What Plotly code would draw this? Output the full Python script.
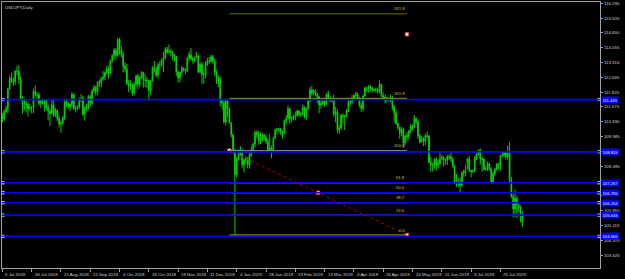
import plotly.graph_objects as go

# ---------------- data (USDJPY daily) ----------------
opens = [
    # Jul 2018
    110.62,110.47,110.85,111.00,111.98,112.52,112.37,112.33,112.88,112.87,112.47,111.40,111.33,111.22,111.20,110.99,111.04,111.05,
    # Aug 2018
    111.86,111.70,111.67,111.25,111.39,111.38,111.39,111.06,110.87,110.73,111.18,110.66,110.90,110.49,110.22,110.24,110.52,111.33,111.24,111.08,111.19,111.70,111.00,
    # Sep 2018
    111.03,111.07,111.44,111.50,110.71,110.99,111.10,111.60,111.28,111.88,112.05,111.85,112.33,112.29,112.50,112.58,112.79,112.99,112.78,113.42,
    # Oct 2018
    113.68,113.93,113.67,114.47,113.95,113.71,113.12,113.00,112.24,112.13,112.20,111.76,112.21,112.64,112.22,112.54,112.82,112.43,112.42,112.38,111.91,112.37,113.04,
    # Nov 2018
    112.94,112.68,113.20,113.18,113.44,113.51,113.98,113.83,113.87,113.82,113.62,113.60,112.83,112.54,112.80,113.02,112.92,112.90,113.54,113.70,113.49,113.45,
    # Dec 2018
    113.55,113.63,112.83,113.20,112.71,112.68,113.29,113.38,113.36,113.60,113.39,112.83,112.51,112.40,111.36,111.27,110.32,111.36,110.99,110.27,
    # Jan 2019
    109.69,108.88,107.67,108.51,108.71,108.74,108.16,108.40,108.48,108.17,108.67,108.93,109.21,109.79,109.67,109.37,109.59,109.64,109.54,109.35,108.86,109.02,
    # Feb 2019
    108.88,109.50,109.90,109.95,109.96,109.80,109.73,110.38,110.48,110.99,110.46,110.49,110.60,110.62,110.87,110.70,110.70,111.04,110.56,111.00,
    # Mar 2019
    111.39,111.93,111.76,111.88,111.75,111.58,111.17,111.25,111.35,111.20,111.70,111.46,111.42,111.39,110.71,110.83,109.92,110.01,110.65,110.59,110.63,
    # Apr 2019
    110.85,111.34,111.32,111.51,111.65,111.72,111.47,111.16,110.99,111.62,112.02,112.02,112.10,112.05,111.96,111.92,111.93,111.86,112.21,111.64,111.55,111.38,
    # May 2019
    111.40,111.42,111.51,111.10,110.77,110.25,110.04,109.75,109.97,109.26,109.63,109.59,109.87,110.07,110.06,110.51,110.32,109.62,109.30,109.47,109.34,109.63,109.60,
    # Jun 2019
    108.28,108.14,108.15,108.44,108.16,108.21,108.46,108.53,108.39,108.38,108.58,108.57,108.45,108.09,107.25,107.31,107.28,107.14,107.75,107.84,
    # Jul 2019
    108.20,108.46,107.88,107.82,107.84,108.46,108.72,108.90,108.48,108.44,107.93,107.92,108.22,108.00,107.30,107.71,107.93,108.19,108.17,108.63,108.68,108.78,108.56,
    # Aug 2019
    108.77,107.38,106.58,105.95,106.47,106.15,106.06,105.68,
]
highs = [
    110.77,110.93,111.14,112.04,112.64,112.80,112.56,112.92,113.14,113.18,112.62,111.63,111.50,111.41,111.30,111.21,111.13,112.00,
    112.15,111.80,111.82,111.48,111.49,111.48,111.42,111.20,110.98,111.48,111.43,111.03,110.96,110.68,110.36,110.63,111.48,111.44,111.31,111.26,111.83,111.76,111.15,
    111.17,111.55,111.73,111.63,111.10,111.24,111.67,111.70,111.98,112.17,112.15,112.38,112.45,112.58,112.88,112.86,113.15,113.14,113.44,113.70,
    114.05,114.01,114.55,114.55,114.13,113.86,113.31,113.24,112.43,112.42,112.25,112.34,112.69,112.74,112.62,112.88,112.83,112.72,112.58,112.46,112.45,113.12,113.39,
    113.09,113.29,113.40,113.53,113.84,114.08,114.09,114.22,114.00,113.90,113.74,113.64,112.88,112.84,113.13,113.06,113.02,113.60,113.86,114.04,113.61,113.60,
    113.84,113.71,113.30,113.35,112.95,113.39,113.54,113.59,113.71,113.69,113.51,112.96,112.65,112.58,111.45,111.40,111.45,111.42,111.06,110.33,
    109.73,108.99,108.55,108.94,109.10,108.99,108.50,108.60,108.55,108.76,109.10,109.28,109.89,109.89,109.88,109.79,109.76,109.72,109.65,109.49,109.71,109.14,
    109.58,109.99,110.01,110.03,110.01,109.90,110.43,110.68,111.13,111.00,110.60,110.69,110.84,110.90,110.92,110.79,111.18,111.11,111.05,111.49,
    112.07,112.14,111.99,111.97,111.77,111.62,111.43,111.51,111.42,111.76,111.90,111.62,111.54,111.70,111.08,110.96,110.18,110.72,110.77,110.67,110.97,
    111.44,111.45,111.68,111.70,111.83,111.81,111.59,111.27,111.70,112.10,112.07,112.17,112.17,112.07,111.98,112.04,112.05,112.40,112.24,111.80,111.69,111.58,
    111.55,111.70,111.64,111.15,110.93,110.30,110.08,110.07,110.03,109.68,109.82,109.92,110.22,110.18,110.67,110.54,110.40,109.73,109.62,109.55,109.72,109.83,109.66,
    108.58,108.26,108.48,108.55,108.42,108.80,108.65,108.61,108.48,108.65,108.67,108.81,108.53,108.16,107.70,107.48,107.54,107.85,107.93,108.17,
    108.53,108.61,107.92,107.93,108.62,108.74,108.92,108.99,108.56,108.50,108.08,108.33,108.27,108.03,107.81,108.02,108.25,108.26,108.66,108.80,108.83,108.82,109.13,
    109.32,107.55,106.72,106.91,106.61,106.23,106.11,105.82,
]
lows = [
    110.27,110.35,110.74,110.75,111.93,112.28,112.15,112.19,112.66,112.23,111.38,110.75,110.90,110.80,110.59,110.87,110.75,110.76,
    111.59,111.39,111.14,111.03,111.20,110.86,110.90,110.40,110.11,110.72,110.58,110.56,110.36,110.05,109.77,110.19,110.43,111.07,110.96,110.86,111.08,110.91,110.79,
    110.90,110.95,111.31,110.63,110.38,110.85,110.95,111.10,111.19,111.75,111.65,111.67,112.08,112.06,112.39,112.42,112.72,112.50,112.71,113.29,
    113.46,113.46,113.60,113.70,113.57,112.81,112.81,112.18,111.82,111.94,111.63,111.70,112.12,111.97,112.06,112.48,112.04,112.08,112.04,111.38,111.68,112.33,112.84,
    112.57,112.48,112.94,113.07,112.82,113.47,113.75,113.78,113.61,113.43,113.34,112.63,112.30,112.31,112.71,112.85,112.74,112.82,113.40,113.41,113.25,113.30,
    113.54,112.77,112.78,112.23,112.25,112.51,113.14,113.23,113.29,113.24,112.63,112.23,112.08,111.10,110.94,110.23,110.15,110.57,110.25,109.53,
    108.72,104.63,107.51,108.37,108.57,107.99,107.77,108.20,107.98,107.97,108.54,108.80,109.05,109.51,109.16,109.21,109.30,109.40,109.20,108.84,108.81,108.49,
    108.76,109.45,109.68,109.80,109.66,109.49,109.72,110.20,110.42,110.22,110.30,110.40,110.40,110.62,110.58,110.56,110.70,110.49,110.42,110.90,
    111.31,111.65,111.66,111.62,111.26,110.77,110.99,111.18,111.07,111.15,111.40,111.31,111.30,110.57,110.30,109.75,109.70,109.94,110.25,109.91,110.55,
    110.85,111.14,111.25,111.40,111.55,111.41,111.05,110.83,110.85,111.60,111.84,111.80,111.85,111.79,111.85,111.80,111.73,111.76,111.57,111.44,111.26,111.29,
    111.35,111.32,110.90,110.28,110.15,109.92,109.47,109.60,109.02,109.16,109.34,109.44,109.74,109.89,110.02,110.21,109.45,109.25,109.28,109.11,109.14,109.50,108.27,
    107.81,107.83,107.97,107.88,107.99,108.16,108.42,108.07,108.16,108.16,108.43,108.31,108.02,107.22,107.06,107.04,106.78,107.06,107.53,107.57,
    107.94,107.80,107.53,107.76,107.79,108.39,108.62,108.17,107.82,107.89,107.86,107.84,107.86,107.21,107.21,107.59,107.86,107.93,107.86,108.55,108.56,108.42,108.43,
    107.28,106.48,105.51,105.53,105.50,105.80,105.27,105.05,
]
closes = [
    110.47,110.85,111.00,111.98,112.52,112.37,112.33,112.88,112.87,112.47,111.40,111.33,111.22,111.20,110.99,111.04,111.05,111.86,
    111.70,111.67,111.25,111.39,111.38,111.39,111.06,110.87,110.73,111.18,110.66,110.90,110.49,110.22,110.24,110.52,111.33,111.24,111.08,111.19,111.70,111.00,111.03,
    111.07,111.44,111.50,110.71,110.99,111.10,111.60,111.28,111.88,112.05,111.85,112.33,112.29,112.50,112.58,112.79,112.99,112.78,113.42,113.68,
    113.93,113.67,114.47,113.95,113.71,113.12,113.00,112.24,112.13,112.20,111.76,112.21,112.64,112.22,112.54,112.82,112.43,112.42,112.38,111.91,112.37,113.04,112.94,
    112.68,113.20,113.18,113.44,113.51,113.98,113.83,113.87,113.82,113.62,113.60,112.83,112.54,112.80,113.02,112.92,112.90,113.54,113.70,113.49,113.45,113.55,
    113.63,112.83,113.20,112.71,112.68,113.29,113.38,113.36,113.60,113.39,112.83,112.51,112.40,111.36,111.27,110.32,111.36,110.99,110.27,109.69,
    108.88,107.67,108.51,108.71,108.74,108.16,108.40,108.48,108.17,108.67,108.93,109.21,109.79,109.67,109.37,109.59,109.64,109.54,109.35,108.86,109.02,108.88,
    109.50,109.90,109.95,109.96,109.80,109.73,110.38,110.48,110.99,110.46,110.49,110.60,110.62,110.87,110.70,110.70,111.04,110.56,111.00,111.39,
    111.93,111.76,111.88,111.75,111.58,111.17,111.25,111.35,111.20,111.70,111.46,111.42,111.39,110.71,110.83,109.92,110.01,110.65,110.59,110.63,110.85,
    111.34,111.32,111.51,111.65,111.72,111.47,111.16,110.99,111.62,112.02,112.02,112.10,112.05,111.96,111.92,111.93,111.86,112.21,111.64,111.55,111.38,111.40,
    111.42,111.51,111.10,110.77,110.25,110.04,109.75,109.97,109.26,109.63,109.59,109.87,110.07,110.06,110.51,110.32,109.62,109.30,109.47,109.34,109.63,109.60,108.28,
    108.14,108.15,108.44,108.16,108.21,108.46,108.53,108.39,108.38,108.58,108.57,108.45,108.09,107.25,107.31,107.28,107.14,107.75,107.84,107.88,
    108.46,107.88,107.82,107.84,108.46,108.72,108.90,108.48,108.44,107.93,107.92,108.22,108.00,107.30,107.71,107.93,108.19,108.17,108.63,108.68,108.78,108.56,108.77,
    107.38,106.58,105.95,106.47,106.15,106.06,105.68,105.30,
]

date_labels = ["5 Jul 2018", "30 Jul 2018", "21 Aug 2018", "12 Sep 2018", "4 Oct 2018",
               "26 Oct 2018", "19 Nov 2018", "11 Dec 2018", "4 Jan 2019", "28 Jan 2019",
               "19 Feb 2019", "13 Mar 2019", "4 Apr 2019", "26 Apr 2019", "20 May 2019",
               "11 Jun 2019", "3 Jul 2019", "25 Jul 2019"]
date_label_bars = [0, 16, 32, 48, 64, 80, 96, 112, 128, 144, 160, 176, 192, 208, 224, 240, 256, 272]

# right price scale; the labels hidden behind line labels are left blank
price_ticks = [116.290, 115.545, 114.800, 114.055, 113.310, 112.565, 111.820, 111.075,
               110.330, 109.585, 108.840, 108.095, 107.350, 106.605, 105.860, 105.115,
               104.370, 103.625]
hidden_ticks = [108.840, 107.350, 106.605]

# horizontal (blue) lines
hlines = [111.445, 108.815, 107.257, 106.755, 106.254, 105.633, 104.565]

# Fibonacci retracement object
fib_bar1, fib_price1 = 124, 108.88
fib_bar2, fib_price2 = 221, 104.63
fib_levels = [0.0, 23.6, 38.2, 50.0, 61.8, 100.0, 161.8, 261.8]
fib_colors = ["#c8c800", "#c8c800", "#c8c800", "#c8c800", "#c8c800", "#8a8a8a", "#b8b800", "#6e6e00"]
extra_point = (221, 114.73)

symbol_title = "USDJPY,Daily"

# ---------------- figure ----------------
X_RANGE = [-0.2, 326.4]
Y_RANGE = [102.971, 116.355]
FONT = "Liberation Sans"
TXT = "#d0d0d0"

bars = list(range(len(closes)))
fig = go.Figure()
fig.add_trace(go.Candlestick(
    x=bars, open=opens, high=highs, low=lows, close=closes,
    increasing=dict(line=dict(color="#00d000", width=1), fillcolor="#10e010"),
    decreasing=dict(line=dict(color="#00d000", width=1), fillcolor="#ffffff"),
    whiskerwidth=0, hoverinfo="skip", showlegend=False))

shapes = []
annotations = []

# fib lines and labels (drawn first so the blue lines lie over them)
rng = fib_price1 - fib_price2
for lv, col in zip(fib_levels, fib_colors):
    p = fib_price2 + rng * lv / 100.0
    shapes.append(dict(type="line", xref="x", yref="y", x0=fib_bar1, x1=fib_bar2, y0=p, y1=p,
                       line=dict(color=col, width=1), layer="above"))
    annotations.append(dict(xref="x", yref="y", x=fib_bar2, y=p, xanchor="right", yanchor="bottom",
                            yshift=0.5, text=f"{lv:.1f}", showarrow=False,
                            font=dict(family=FONT, size=4.2, color="#d0d000")))

# blue horizontal lines
for p in hlines:
    shapes.append(dict(type="line", xref="paper", yref="y", x0=0, x1=1, y0=p, y1=p,
                       line=dict(color="#0000ff", width=1.6), layer="above"))
    annotations.append(dict(xref="paper", yref="y", x=1, y=p, xanchor="left", yanchor="middle",
                            xshift=1, text=f"{p:.3f}", showarrow=False, bgcolor="#0000ff",
                            borderpad=0.5, font=dict(family=FONT, size=4.2, color="#ffffff")))

# fib trend line
shapes.append(dict(type="line", xref="x", yref="y", x0=fib_bar1, x1=fib_bar2,
                   y0=fib_price1, y1=fib_price2,
                   line=dict(color="#b00000", width=1, dash="dot"), layer="above"))

# handles
hx = [X_RANGE[0] + 0.6] * len(hlines) + [X_RANGE[1] - 0.6] * len(hlines)
hy = hlines + hlines
fig.add_trace(go.Scatter(x=hx, y=hy, mode="markers", cliponaxis=False, hoverinfo="skip",
                         marker=dict(symbol="square", size=3, color="#ffffff", line=dict(width=0)),
                         showlegend=False))
fx = [fib_bar1, (fib_bar1 + fib_bar2) / 2, fib_bar2, extra_point[0]]
fy = [fib_price1, (fib_price1 + fib_price2) / 2, fib_price2, extra_point[1]]
fig.add_trace(go.Scatter(x=fx, y=fy, mode="markers", cliponaxis=False, hoverinfo="skip",
                         marker=dict(symbol="square", size=3.5, color="#ffffff",
                                     line=dict(width=0.8, color="#ff2020")),
                         showlegend=False))

# date labels (left-aligned after the tick, like MT4)
for b, t in zip(date_label_bars, date_labels):
    annotations.append(dict(xref="x", yref="paper", x=b, y=0, xanchor="left", yanchor="top",
                            xshift=1, yshift=-1.5, text=t, showarrow=False,
                            font=dict(family=FONT, size=4.4, color=TXT)))

annotations.append(dict(xref="paper", yref="paper", x=0, y=1, xanchor="left", yanchor="top",
                        xshift=1, yshift=-1, text=symbol_title, showarrow=False,
                        font=dict(family=FONT, size=4.4, color=TXT)))

fig.update_layout(
    width=625, height=279,
    margin=dict(l=2, r=25, t=2, b=11, autoexpand=False),
    paper_bgcolor="#000000", plot_bgcolor="#000000",
    boxgap=0.45,
    shapes=shapes, annotations=annotations,
    xaxis=dict(range=X_RANGE, showgrid=False, zeroline=False, rangeslider=dict(visible=False),
               showline=True, mirror=True, linecolor="#a0a0a0", linewidth=1,
               tickmode="array", tickvals=date_label_bars, ticks="outside", ticklen=3,
               tickcolor="#a0a0a0", showticklabels=False),
    yaxis=dict(range=Y_RANGE, side="right", showgrid=False, zeroline=False,
               showline=True, mirror=True, linecolor="#a0a0a0", linewidth=1,
               tickmode="array", tickvals=price_ticks,
               ticktext=["" if v in hidden_ticks else f"{v:.3f}" for v in price_ticks],
               ticks="outside", ticklen=2, tickcolor="#a0a0a0",
               tickfont=dict(family=FONT, size=4.4, color=TXT)),
)

fig.write_html("out.html")
